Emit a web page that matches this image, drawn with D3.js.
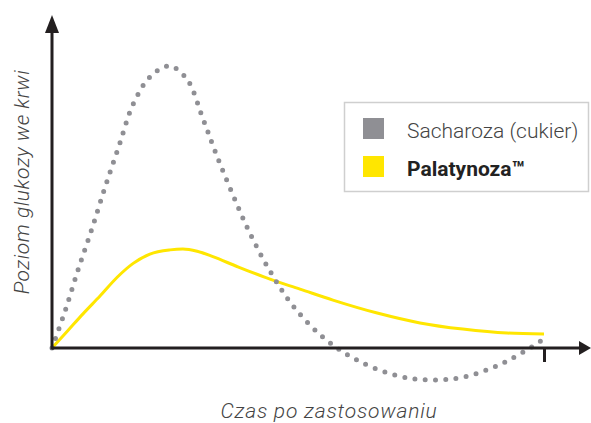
<!DOCTYPE html>
<html><head><meta charset="utf-8">
<script src="https://cdn.jsdelivr.net/npm/d3@7"></script>
<style>
html,body{margin:0;padding:0;background:#fff;}
svg{display:block;font-family:Roboto,"Open Sans",sans-serif;}
</style></head>
<body><svg id="c" width="591" height="423"></svg>
<script>
// Series names
const seriesNames = ["Sacharoza (cukier)", "Palatynoza™"];
// Sucrose (gray dotted) curve: time (0-100), glucose level (0 = baseline, 100 = peak)
const sucroseX = [0, 2.6, 5.3, 8.1, 10.8, 13.6, 16.5, 19.9, 23.8, 27.4, 30.7, 33.3, 36.6, 40.2, 44.3, 49.0, 55.3, 62.0, 70.3, 77.0, 83.7, 92.1, 100];
const sucroseY = [0, 12.8, 27.7, 42.2, 57.1, 71.6, 86.5, 96.1, 100, 95.4, 81.2, 69.1, 55.0, 40.8, 27.3, 14.9, 3.5, -4.3, -9.9, -11.3, -10.3, -5.0, 3.2];
// Palatinose (yellow) curve
const palaX = [0, 3.2, 6.3, 9.8, 13.2, 16.5, 19.9, 24.0, 26.6, 29.5, 32.7, 37.6, 44.3, 50.4, 57.1, 66.1, 74.8, 83.5, 92.5, 100];
const palaY = [0, 6.1, 12.1, 18.5, 25.0, 30.0, 33.3, 34.8, 35.1, 34.3, 32.4, 28.9, 24.4, 20.9, 17.0, 12.4, 8.9, 6.7, 5.3, 5.0];
// Axis labels
const xLabel = "Czas po zastosowaniu";
const yLabel = "Poziom glukozy we krwi";
const endTick = [100];

const svg = d3.select("#c");
const x = d3.scaleLinear().domain([0, 100]).range([52, 544]);
const y = d3.scaleLinear().domain([0, 100]).range([348, 66]);

const grayC = "#8f8f94", yellowC = "#ffe600", axisC = "#231f20";

// curves
const pts = (xs, ys) => xs.map((v, i) => [v, ys[i]]);
const lineY = d3.line().x(d => x(d[0])).y(d => y(d[1])).curve(d3.curveMonotoneX);
const lineG = d3.line().x(d => x(d[0])).y(d => y(d[1])).curve(d3.curveCatmullRom.alpha(0.5));
svg.append("path")
  .attr("d", lineY(pts(palaX, palaY)))
  .attr("fill", "none").attr("stroke", yellowC).attr("stroke-width", 3);
svg.append("path")
  .attr("d", lineG(pts(sucroseX, sucroseY)))
  .attr("fill", "none").attr("stroke", grayC).attr("stroke-width", 5)
  .attr("stroke-linecap", "round").attr("stroke-dasharray", "0 10.3");

// axes
const xAxis = d3.axisBottom(x).tickValues(endTick).tickSize(14).tickFormat("");
const gx = svg.append("g").attr("transform", `translate(0,${y(0)})`).call(xAxis);
gx.select(".domain").remove();
gx.selectAll(".tick line").attr("stroke", axisC).attr("stroke-width", 3);

svg.append("line").attr("x1", x(0)).attr("x2", 582).attr("y1", y(0)).attr("y2", y(0))
  .attr("stroke", axisC).attr("stroke-width", 3);
svg.append("path").attr("d", `M591,${y(0)} L579,${y(0) - 7} L579,${y(0) + 7} Z`).attr("fill", axisC);

svg.append("line").attr("x1", x(0)).attr("x2", x(0)).attr("y1", y(0) + 1.5).attr("y2", 30)
  .attr("stroke", axisC).attr("stroke-width", 3);
svg.append("path").attr("d", `M${x(0)},15 L${x(0) - 7},33 L${x(0) + 7},33 Z`).attr("fill", axisC);

// axis labels
svg.append("text").attr("x", 329).attr("y", 418).attr("text-anchor", "middle")
  .attr("font-size", 21).attr("font-style", "italic").attr("font-weight", 300)
  .attr("letter-spacing", 0.8).attr("fill", "#444").text(xLabel);
svg.append("text").attr("transform", "translate(29,182) rotate(-90)").attr("text-anchor", "middle")
  .attr("font-size", 21).attr("font-style", "italic").attr("font-weight", 300)
  .attr("letter-spacing", 0.5).attr("fill", "#444").text(yLabel);

// legend
const lg = svg.append("g");
lg.append("rect").attr("x", 344.5).attr("y", 102.5).attr("width", 244).attr("height", 89)
  .attr("fill", "#fff").attr("stroke", "#cfcfcf").attr("stroke-width", 1.5);
const colors = [grayC, yellowC];
seriesNames.forEach((n, i) => {
  lg.append("rect").attr("x", 363).attr("y", 118 + i * 38).attr("width", 21).attr("height", 21).attr("fill", colors[i]);
  lg.append("text").attr("x", 407).attr("y", 138 + i * 38)
    .attr("font-size", 21).attr("font-weight", i ? 700 : 300)
    .attr("fill", i ? "#222" : "#444").text(n);
});
</script></body></html>
